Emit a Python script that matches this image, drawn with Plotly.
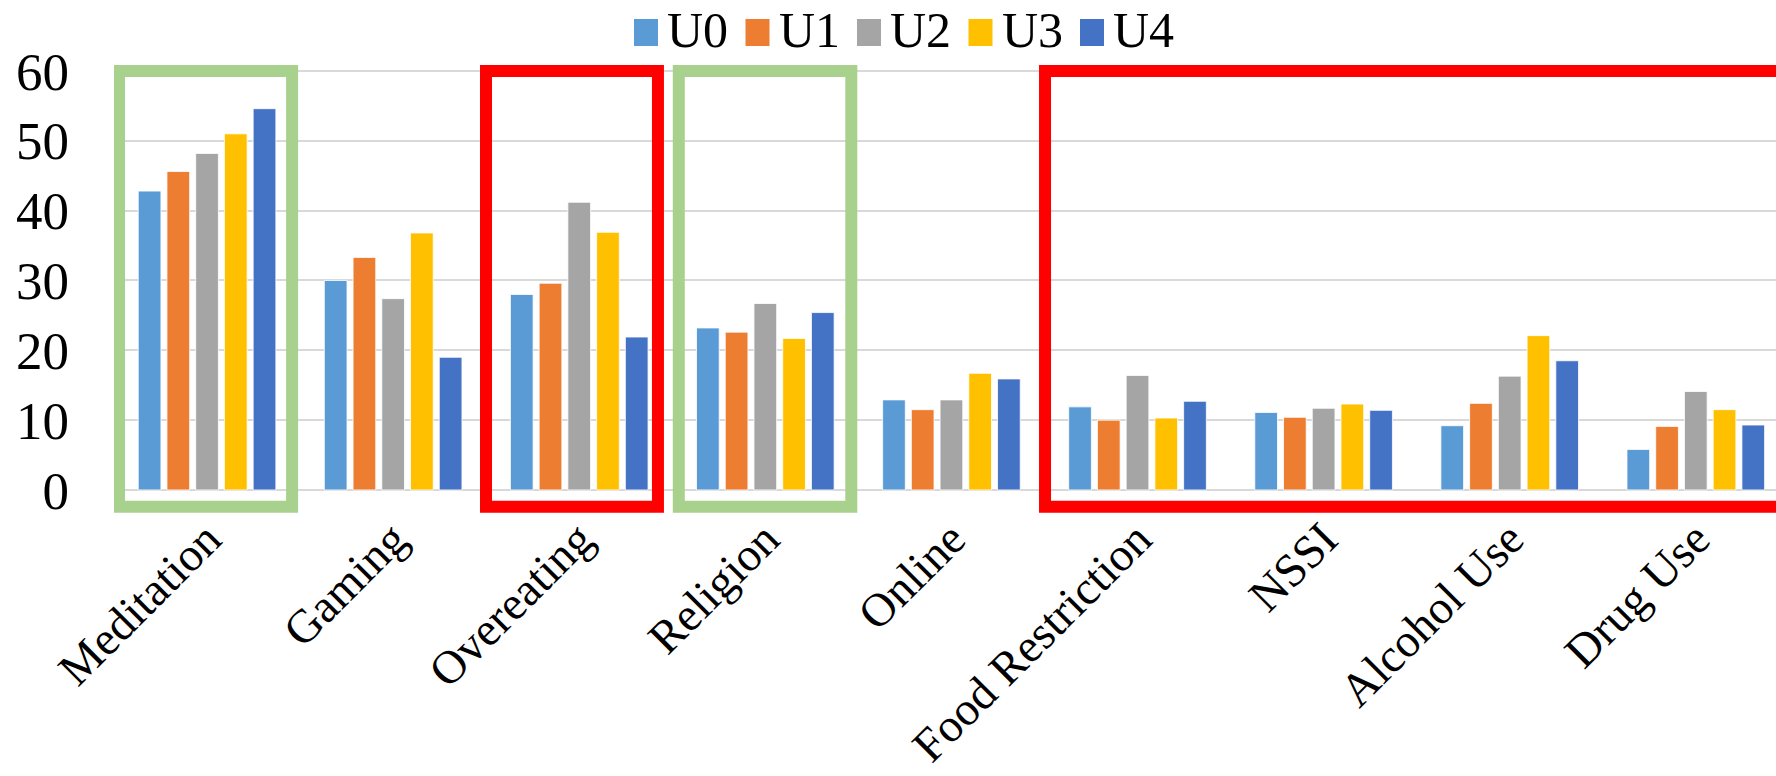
import plotly.graph_objects as go

# Categories and series values (percent)
categories = ["Meditation", "Gaming", "Overeating", "Religion", "Online",
              "Food Restriction", "NSSI", "Alcohol Use", "Drug Use"]
series_names = ["U0", "U1", "U2", "U3", "U4"]
u0 = [42.8, 30.0, 28.0, 23.2, 12.9, 11.9, 11.1, 9.2, 5.8]
u1 = [45.6, 33.3, 29.6, 22.6, 11.5, 10.0, 10.4, 12.4, 9.1]
u2 = [48.2, 27.4, 41.2, 26.7, 12.9, 16.4, 11.7, 16.3, 14.1]
u3 = [51.0, 36.8, 36.9, 21.7, 16.7, 10.3, 12.3, 22.1, 11.5]
u4 = [54.6, 19.0, 21.9, 25.4, 15.9, 12.7, 11.4, 18.5, 9.3]
series_values = [u0, u1, u2, u3, u4]
colors = ["#5B9BD5", "#ED7D31", "#A5A5A5", "#FFC000", "#4472C4"]
y_ticks = [0, 10, 20, 30, 40, 50, 60]

# Highlight boxes: (first category, last category, colour)
highlight_groups = [
    ("Meditation", "Meditation", "#A9D18E"),
    ("Overeating", "Overeating", "#FF0000"),
    ("Religion", "Religion", "#A9D18E"),
    ("Food Restriction", "Drug Use", "#FF0000"),
]

FONT = "Liberation Serif"
W, H = 1776, 776
M_L, M_R, M_T, M_B = 114, 0, 64, 263

fig = go.Figure()
x_idx = list(range(len(categories)))
for name, vals, col in zip(series_names, series_values, colors):
    fig.add_trace(go.Bar(
        x=x_idx, y=vals, name=name,
        marker=dict(color=col, line=dict(color="rgba(255,255,255,0.8)", width=1)),
        showlegend=False,
    ))

# Rectangles drawn around grouped categories
box_edges = {
    "Meditation": (-0.473, 0.457),
    "Overeating": (-0.501, 0.423),
    "Religion": (-0.465, 0.462),
    "Food Restriction": (-0.497, 4.0),
}
for first, last, col in highlight_groups:
    i0, i1 = categories.index(first), categories.index(last)
    dl, dr = box_edges[first]
    fig.add_shape(type="rect", xref="x", yref="y",
                  x0=i0 + dl, x1=i0 + dr if first == last else i1 + 1.0,
                  y0=-2.39, y1=60.0,
                  line=dict(color=col, width=12), fillcolor="rgba(0,0,0,0)",
                  layer="above")

# Legend row drawn at the top centre
plot_w = W - M_L - M_R
plot_h = H - M_T - M_B
def px_to_paper_x(px):
    return (px - M_L) / plot_w
def py_to_paper_y(py):
    return (H - M_B - py) / plot_h

leg_start, leg_step = 634, 111.5
for k, (name, col) in enumerate(zip(series_names, colors)):
    sx = leg_start + k * leg_step
    fig.add_shape(type="rect", xref="paper", yref="paper",
                  x0=px_to_paper_x(sx), x1=px_to_paper_x(sx + 24),
                  y0=py_to_paper_y(46), y1=py_to_paper_y(19),
                  fillcolor=col, line=dict(width=0))
    fig.add_annotation(xref="paper", yref="paper",
                       x=px_to_paper_x(sx + 31), y=py_to_paper_y(30),
                       xanchor="left", yanchor="middle", showarrow=False,
                       text=name, font=dict(family=FONT, size=50, color="black"))

fig.update_layout(
    width=W, height=H,
    margin=dict(l=M_L, r=M_R, t=M_T, b=M_B, autoexpand=False),
    paper_bgcolor="white", plot_bgcolor="white",
    barmode="group", bargap=0.228, bargroupgap=0.21,
    showlegend=False,
    font=dict(family=FONT, color="black"),
)
# Category labels sit a little above the bottom of the plot frame
fig.update_xaxes(
    range=[-0.5, 8.431], tickmode="array", tickvals=x_idx, ticktext=categories,
    tickangle=-45, tickfont=dict(family=FONT, size=47, color="black"),
    showgrid=False, showline=False, zeroline=False, ticks="",
    ticklabelstandoff=0, automargin=False,
    anchor="free", position=12 / plot_h,
)
fig.update_yaxes(
    range=[-3.3, 61.0], tickmode="array", tickvals=y_ticks,
    tickfont=dict(family=FONT, size=53, color="black"),
    showgrid=True, gridcolor="#D9D9D9", gridwidth=1.5,
    zeroline=True, zerolinecolor="#D9D9D9", zerolinewidth=1.5,
    showline=False, ticks="", ticklabelstandoff=44, automargin=False,
)

fig.write_html("out.html")
